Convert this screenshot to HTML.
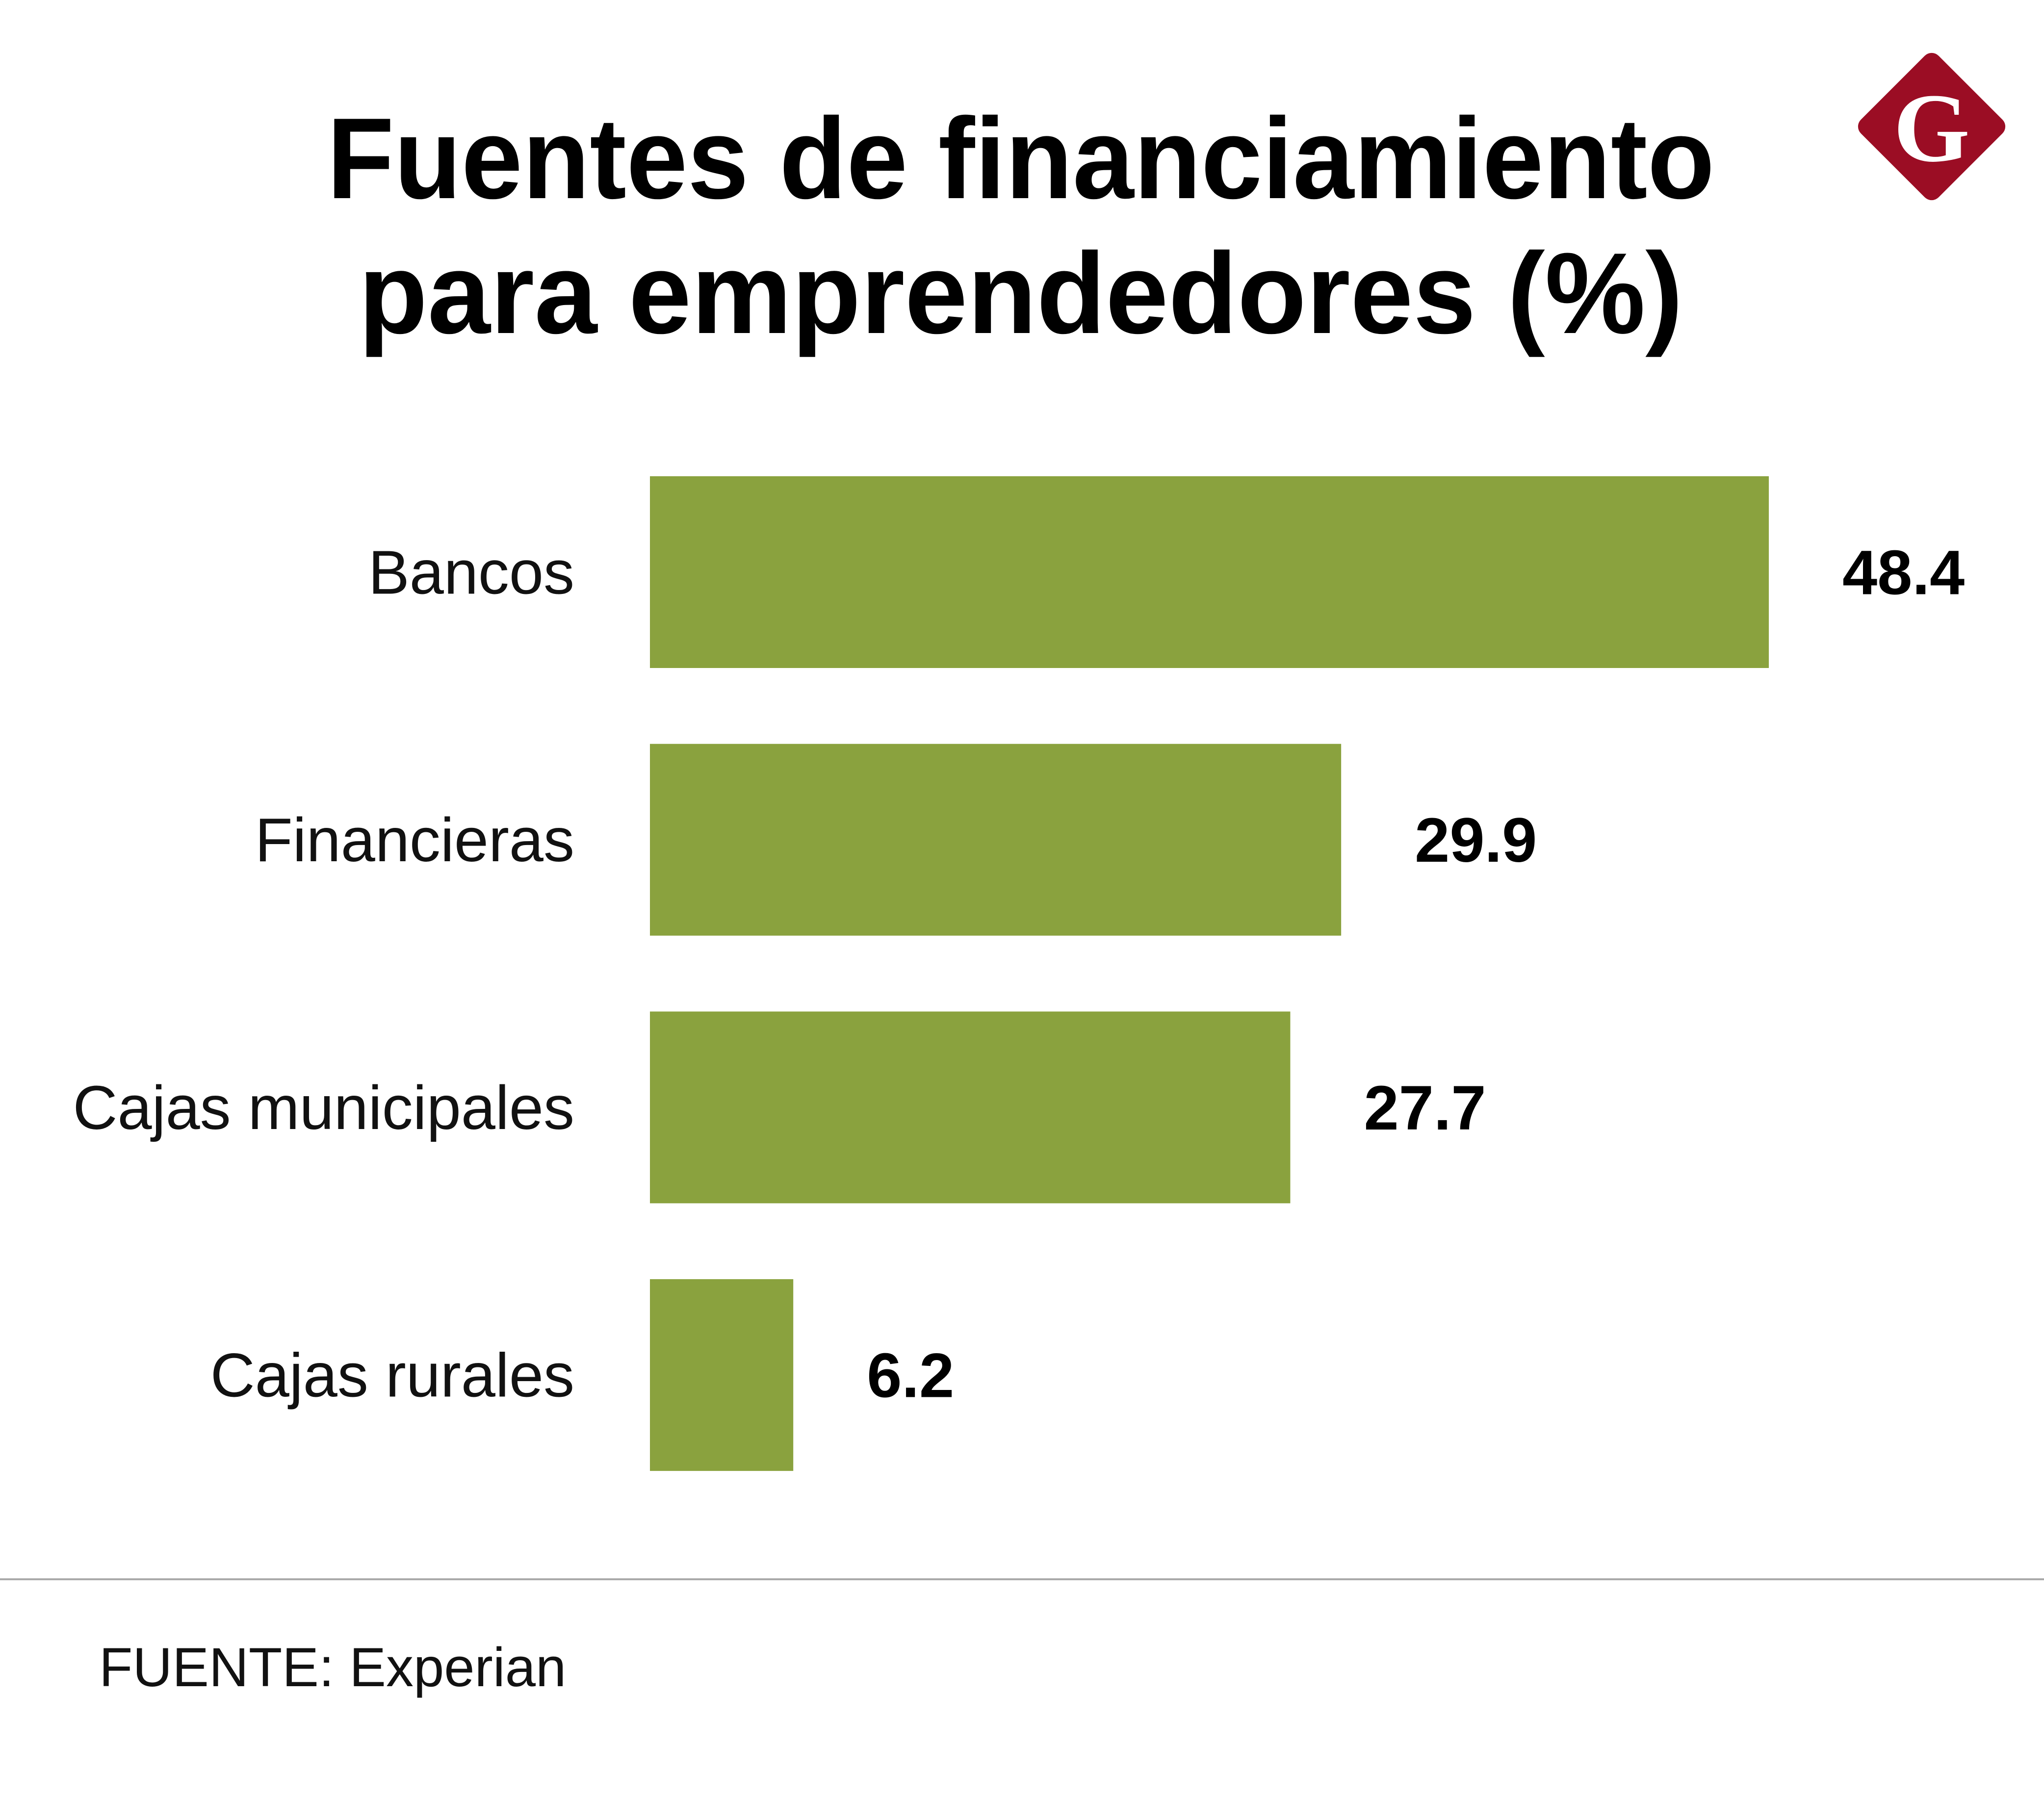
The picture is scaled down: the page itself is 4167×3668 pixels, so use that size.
<!DOCTYPE html>
<html><head><meta charset="utf-8"><style>
html,body{margin:0;padding:0;background:#fff;}
svg{display:block;font-family:"Liberation Sans",sans-serif;}
</style></head><body>
<svg id="chart" width="4167" height="3668" viewBox="0 0 4167 3668">
<rect width="4167" height="3668" fill="#fff"/>
<g>
<text x="2081" y="404" text-anchor="middle" font-weight="bold" font-size="235" textLength="2829" lengthAdjust="spacingAndGlyphs" fill="#000">Fuentes de financiamiento</text>
<text x="2081" y="679" text-anchor="middle" font-weight="bold" font-size="235" textLength="2700" lengthAdjust="spacingAndGlyphs" fill="#000">para emprendedores (%)</text>
</g>
<g transform="translate(3938,258)">
<rect x="-112" y="-112" width="224" height="224" rx="20" transform="rotate(45)" fill="#9b0d24"/>
<text x="0" y="70" text-anchor="middle" font-family="Liberation Serif,serif" font-weight="bold" font-size="200" fill="#fff">G</text>
</g>
<g id="bars"></g>
<line x1="0" y1="3220" x2="4167" y2="3220" stroke="#aaa" stroke-width="4"/>
<text x="202" y="3438" font-size="112" fill="#111">FUENTE: Experian</text>
</svg>
<script>
const categories = ["Bancos", "Financieras", "Cajas municipales", "Cajas rurales"];
const values = [48.4, 29.9, 27.7, 6.2];
const valueLabels = ["48.4", "29.9", "27.7", "6.2"];

const NS = "http://www.w3.org/2000/svg";
const g = document.getElementById("bars");
const x0 = 1325, pxPerUnit = 2281 / 48.4;
const xScale = v => x0 + v * pxPerUnit;
const yTop = i => 971 + i * 545.7;
const bh = 391;
categories.forEach((c, i) => {
  const r = document.createElementNS(NS, "rect");
  r.setAttribute("x", x0);
  r.setAttribute("y", yTop(i));
  r.setAttribute("width", xScale(values[i]) - x0);
  r.setAttribute("height", bh);
  r.setAttribute("fill", "#8aa23e");
  
  
  g.appendChild(r);
  const t = document.createElementNS(NS, "text");
  t.setAttribute("x", 1171);
  t.setAttribute("y", yTop(i) + bh / 2 + 44);
  t.setAttribute("text-anchor", "end");
  t.setAttribute("font-size", "126");
  t.setAttribute("fill", "#111");
  t.textContent = c;
  
  
  g.appendChild(t);
  const v = document.createElementNS(NS, "text");
  v.setAttribute("x", xScale(values[i]) + 150);
  v.setAttribute("y", yTop(i) + bh / 2 + 45);
  v.setAttribute("font-size", "128");
  v.setAttribute("font-weight", "bold");
  v.setAttribute("fill", "#000");
  v.textContent = valueLabels[i];
  
  
  g.appendChild(v);
});
</script>
</body></html>
